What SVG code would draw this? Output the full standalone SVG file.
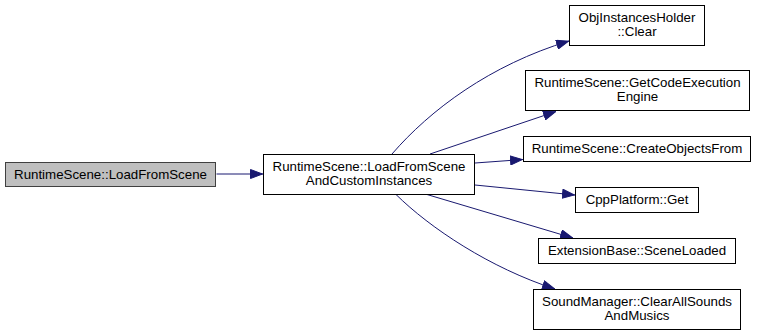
<svg xmlns="http://www.w3.org/2000/svg" width="757" height="335" viewBox="0 0 757 335">
  <defs>
    <marker id="arrow" viewBox="0 0 13 10" refX="13" refY="5" markerWidth="13" markerHeight="10" markerUnits="userSpaceOnUse" orient="auto">
      <path d="M0.5,0.5 L12.5,5 L0.5,9.5 Z" fill="#191970" stroke="#191970"/>
    </marker>
    <style>
      .node rect { fill: #ffffff; stroke: #000000; stroke-width: 1; }
      .node.current rect { fill: #bfbfbf; stroke: #404040; }
      .node text { font-family: "Liberation Sans", Arial, sans-serif; font-size: 13.3px; fill: #000000; text-anchor: middle; }
      .edges path { fill: none; stroke: #191970; stroke-width: 1; marker-end: url(#arrow); }
    </style>
  </defs>
  <rect x="0" y="0" width="757" height="335" fill="#ffffff"/>

  <g class="edges">
    <path d="M216.5,174 L263,174"/>
    <path d="M392,154 C430,110 490,65 569,41"/>
    <path d="M430,154 L556,111.5"/>
    <path d="M475,163 L523,159.5"/>
    <path d="M475,185 L575,195"/>
    <path d="M427,194.5 L573,238"/>
    <path d="M396,194.5 C430,228 490,268 555,289"/>
  </g>

  <g id="node-loadfromscene" class="node current">
    <rect x="5.5" y="162.5" width="210" height="24"/>
    <text x="110.5" y="179">RuntimeScene::LoadFromScene</text>
  </g>
  <g id="node-loadfromsceneandcustom" class="node">
    <rect x="263.5" y="154.5" width="211" height="40"/>
    <text x="369" y="171">RuntimeScene::LoadFromScene</text>
    <text x="369" y="185">AndCustomInstances</text>
  </g>
  <g id="node-objinstancesholder-clear" class="node">
    <rect x="569.5" y="5.5" width="135" height="40"/>
    <text x="637" y="22">ObjInstancesHolder</text>
    <text x="637" y="36">::Clear</text>
  </g>
  <g id="node-getcodeexecutionengine" class="node">
    <rect x="525.5" y="70.5" width="224" height="40"/>
    <text x="637.5" y="87">RuntimeScene::GetCodeExecution</text>
    <text x="637.5" y="101">Engine</text>
  </g>
  <g id="node-createobjectsfrom" class="node">
    <rect x="523.5" y="136.5" width="227" height="25"/>
    <text x="637" y="153">RuntimeScene::CreateObjectsFrom</text>
  </g>
  <g id="node-cppplatform-get" class="node">
    <rect x="575.5" y="187.5" width="123" height="25"/>
    <text x="637" y="204">CppPlatform::Get</text>
  </g>
  <g id="node-scenelaoded" class="node">
    <rect x="538.5" y="238.5" width="197" height="25"/>
    <text x="637" y="255">ExtensionBase::SceneLoaded</text>
  </g>
  <g id="node-clearallsounds" class="node">
    <rect x="533.5" y="289.5" width="207" height="40"/>
    <text x="637" y="306">SoundManager::ClearAllSounds</text>
    <text x="637" y="320">AndMusics</text>
  </g>
</svg>
